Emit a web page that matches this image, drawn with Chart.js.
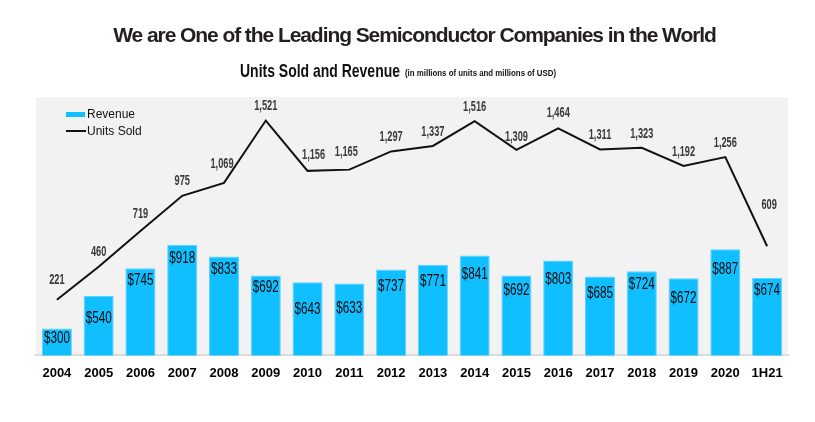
<!DOCTYPE html>
<html>
<head>
<meta charset="utf-8">
<script src="https://cdn.jsdelivr.net/npm/chart.js@4.4.0/dist/chart.umd.min.js"></script>
<style>
  html, body { margin:0; padding:0; background:#fff; }
  #wrap { position:relative; width:815px; height:422px; }
  #title { position:absolute; left:7px; width:815px; top:22px; text-align:center; font-family:"Liberation Sans", Arial, sans-serif; font-weight:bold; font-size:21px; letter-spacing:-1.07px; color:#231f20; white-space:nowrap; line-height:26px; }
  canvas { position:absolute; left:0; top:0; }
</style>
</head>
<body>
<div id="wrap">
  <canvas id="c" width="815" height="422"></canvas>
  <div id="title">We are One of the Leading Semiconductor Companies in the World</div>
</div>
<script>
const categories = ['2004','2005','2006','2007','2008','2009','2010','2011','2012','2013','2014','2015','2016','2017','2018','2019','2020','1H21'];
const revenue = [300,540,745,918,833,692,643,633,737,771,841,692,803,685,724,672,887,674];
const unitsSold = [221,460,719,975,1069,1521,1156,1165,1297,1337,1516,1309,1464,1311,1323,1192,1256,609];
const subtitle = 'Units Sold and Revenue';
const subtitleNote = '(in millions of units and millions of USD)';

// label placement styling (pixels)
const barLabelDy = [10,23,12,14,13,12,27,25,17,17,19,15,19,17,13,20,20,13];
const lineLabelDy = [20,15,17,15,19,14,16,17,14,14,14,13,15,14,14,14,14,41];
const lineLabelDx = [0,0,0,0,-2,0,6,-3,0,0,0,0,0,0,0,0,0,2];

const FONT = '"Liberation Sans", Arial, sans-serif';

const bgPlugin = {
  id:'bg',
  beforeDraw(chart){
    const {ctx, chartArea:a} = chart;
    ctx.save();
    ctx.fillStyle = '#f2f2f2';
    ctx.fillRect(a.left, a.top, a.right-a.left, a.bottom-a.top);
    ctx.restore();
  }
};

function drawNarrow(ctx, text, x, y, font, color, sx, align){
  ctx.save();
  ctx.font = font;
  ctx.fillStyle = color;
  ctx.textAlign = align || 'center';
  ctx.textBaseline = 'middle';
  ctx.translate(x, y);
  ctx.scale(sx, 1);
  ctx.fillText(text, 0, 0);
  ctx.restore();
}

function drawFit(ctx, text, x, baseline, font, color, width){
  ctx.save();
  ctx.font = font;
  const w = ctx.measureText(text).width;
  ctx.fillStyle = color;
  ctx.textAlign = 'left';
  ctx.textBaseline = 'alphabetic';
  ctx.translate(x, baseline);
  ctx.scale(width / w, 1);
  ctx.fillText(text, 0, 0);
  ctx.restore();
}

const labelPlugin = {
  id:'labels',
  afterDatasetsDraw(chart){
    const ctx = chart.ctx;
    const barMeta = chart.getDatasetMeta(0);
    barMeta.data.forEach((el,i)=>{
      drawNarrow(ctx, '$'+revenue[i], el.x, el.y + barLabelDy[i], '16px ' + FONT, '#0a0a0a', 0.73);
    });
    const lineMeta = chart.getDatasetMeta(1);
    lineMeta.data.forEach((el,i)=>{
      drawNarrow(ctx, unitsSold[i].toLocaleString('en-US'), el.x + lineLabelDx[i], el.y - lineLabelDy[i], 'bold 14px ' + FONT, '#3a3a3a', 0.66);
    });
  },
  afterDraw(chart){
    const ctx = chart.ctx;
    ctx.save();
    // subtitle
    drawFit(ctx, subtitle, 240, 77, 'bold 19px ' + FONT, '#111', 160);
    drawFit(ctx, subtitleNote, 405, 76, 'bold 8.5px ' + FONT, '#111', 151);
    // legend inside chart area
    ctx.fillStyle = chart.data.datasets[0].backgroundColor;
    ctx.fillRect(66, 112, 19, 5);
    ctx.strokeStyle = '#111';
    ctx.lineWidth = 2;
    ctx.beginPath(); ctx.moveTo(66, 131); ctx.lineTo(86, 131); ctx.stroke();
    ctx.font = '12px ' + FONT;
    ctx.fillStyle = '#111';
    ctx.textBaseline = 'middle';
    ctx.textAlign = 'left';
    ctx.fillText(chart.data.datasets[0].label, 87, 114.5);
    ctx.fillText(chart.data.datasets[1].label, 87, 131.5);
    ctx.restore();
  }
};

new Chart(document.getElementById('c'), {
  data: {
    labels: categories,
    datasets: [
      { type:'bar', label:'Revenue', data:revenue, yAxisID:'yRev', backgroundColor:'#10bfff', borderColor:'#5ed3ff', borderWidth:1, categoryPercentage:0.8, barPercentage:0.9, order:2 },
      { type:'line', label:'Units Sold', data:unitsSold, yAxisID:'yUnits', borderColor:'#111', borderWidth:2, pointRadius:0, tension:0, fill:false, order:1 }
    ]
  },
  options: {
    responsive:false,
    animation:false,
    events:[],
    layout:{ padding:{ left:36, right:27, top:97, bottom:31 } },
    plugins:{ legend:{display:false}, title:{display:false}, tooltip:{enabled:false} },
    scales:{
      x:{
        offset:true,
        grid:{ display:false, drawTicks:false },
        border:{ display:true, color:'#dcdcdc', width:2 },
        ticks:{ padding:10, color:'#000', font:{ family:FONT, size:13, weight:'bold' }, maxRotation:0, autoSkip:false }
      },
      yRev:{ display:false, min:100, max:2015 },
      yUnits:{ display:false, min:-183, max:1692 }
    }
  },
  plugins:[bgPlugin, labelPlugin]
});
</script>
</body>
</html>
